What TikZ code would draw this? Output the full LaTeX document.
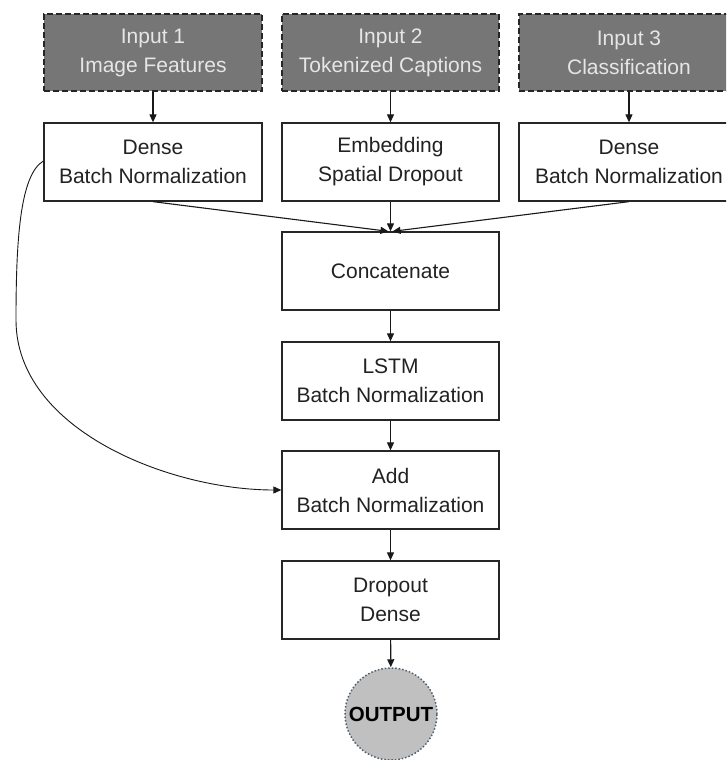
\documentclass[tikz,border=0pt]{standalone}
\usepackage{fontspec}
\setmainfont{Liberation Sans}
\usetikzlibrary{arrows.meta}
\definecolor{inputfill}{HTML}{767676}
\definecolor{inputtext}{HTML}{E6E6E6}
\definecolor{textdark}{HTML}{222222}
\definecolor{outfill}{HTML}{C0C0C0}
\definecolor{outrim}{HTML}{4F5F6F}
\begin{document}
\begin{tikzpicture}[x=1pt,y=-1pt,
  every node/.style={font=\fontsize{21}{29}\selectfont, align=center, inner sep=0pt},
  layer/.style={draw=black!85, line width=1.3pt, fill=white, minimum height=78pt, text=textdark},
  inputbox/.style={draw=black!85, dash pattern=on 6pt off 3pt, line width=1.3pt, fill=inputfill, minimum height=77pt, text=inputtext},
  outnode/.style={circle, fill=outfill, draw=outrim, dotted, line width=1.5pt, minimum size=92pt, text=black, font=\bfseries\fontsize{20.5}{24}\selectfont},
  arr/.style={-{Triangle[length=8pt,width=7pt]}, line width=1.1pt, draw=black!90}]
\clip (0,0) rectangle (726,760);
\fill[white] (0,0) rectangle (726,760);

% inputs
\node[inputbox, minimum width=218pt] (i1) at (153,52.5) {Input 1\\Image Features};
\node[inputbox, minimum width=217pt] (i2) at (390.5,52.5) {Input 2\\Tokenized Captions};
\node[inputbox, minimum width=220pt] (i3) at (629,52.5) {Input 3\\Classification};

% first layers
\node[layer, minimum width=218pt] (d1) at (153,162) {Dense\\Batch Normalization};
\node[layer, minimum width=217pt] (emb) at (390.5,162) {Embedding\\Spatial Dropout};
\node[layer, minimum width=220pt] (d3) at (629,162) {Dense\\Batch Normalization};

% main stack
\node[layer, minimum width=217pt] (cat) at (390.5,271) {Concatenate};
\node[layer, minimum width=217pt] (lstm) at (390.5,381) {LSTM\\Batch Normalization};
\node[layer, minimum width=217pt] (add) at (390.5,490) {Add\\Batch Normalization};
\node[layer, minimum width=217pt] (drop) at (390.5,600) {Dropout\\Dense};
\node[outnode] (out) at (391,714) {OUTPUT};

% connectors
\draw[arr] (i1) -- (d1);
\draw[arr] (i2) -- (emb);
\draw[arr] (i3) -- (d3);
\draw[arr] (d1.south) -- ([xshift=-2pt]cat.north);
\draw[arr] (emb) -- (cat);
\draw[arr] (d3.south) -- ([xshift=2pt]cat.north);
\draw[arr] (cat) -- (lstm);
\draw[arr] (lstm) -- (add);
\draw[arr] (add) -- (drop);
\draw[arr] (drop) -- (out);

% skip connection
\coordinate (bend) at (16,320);
\draw[arr, line width=0.9pt] ([yshift=1pt]d1.west) .. controls (20,175) and (16,240) .. (bend)
  .. controls (16,430) and (170,490) .. (add.west);
\end{tikzpicture}
\end{document}
